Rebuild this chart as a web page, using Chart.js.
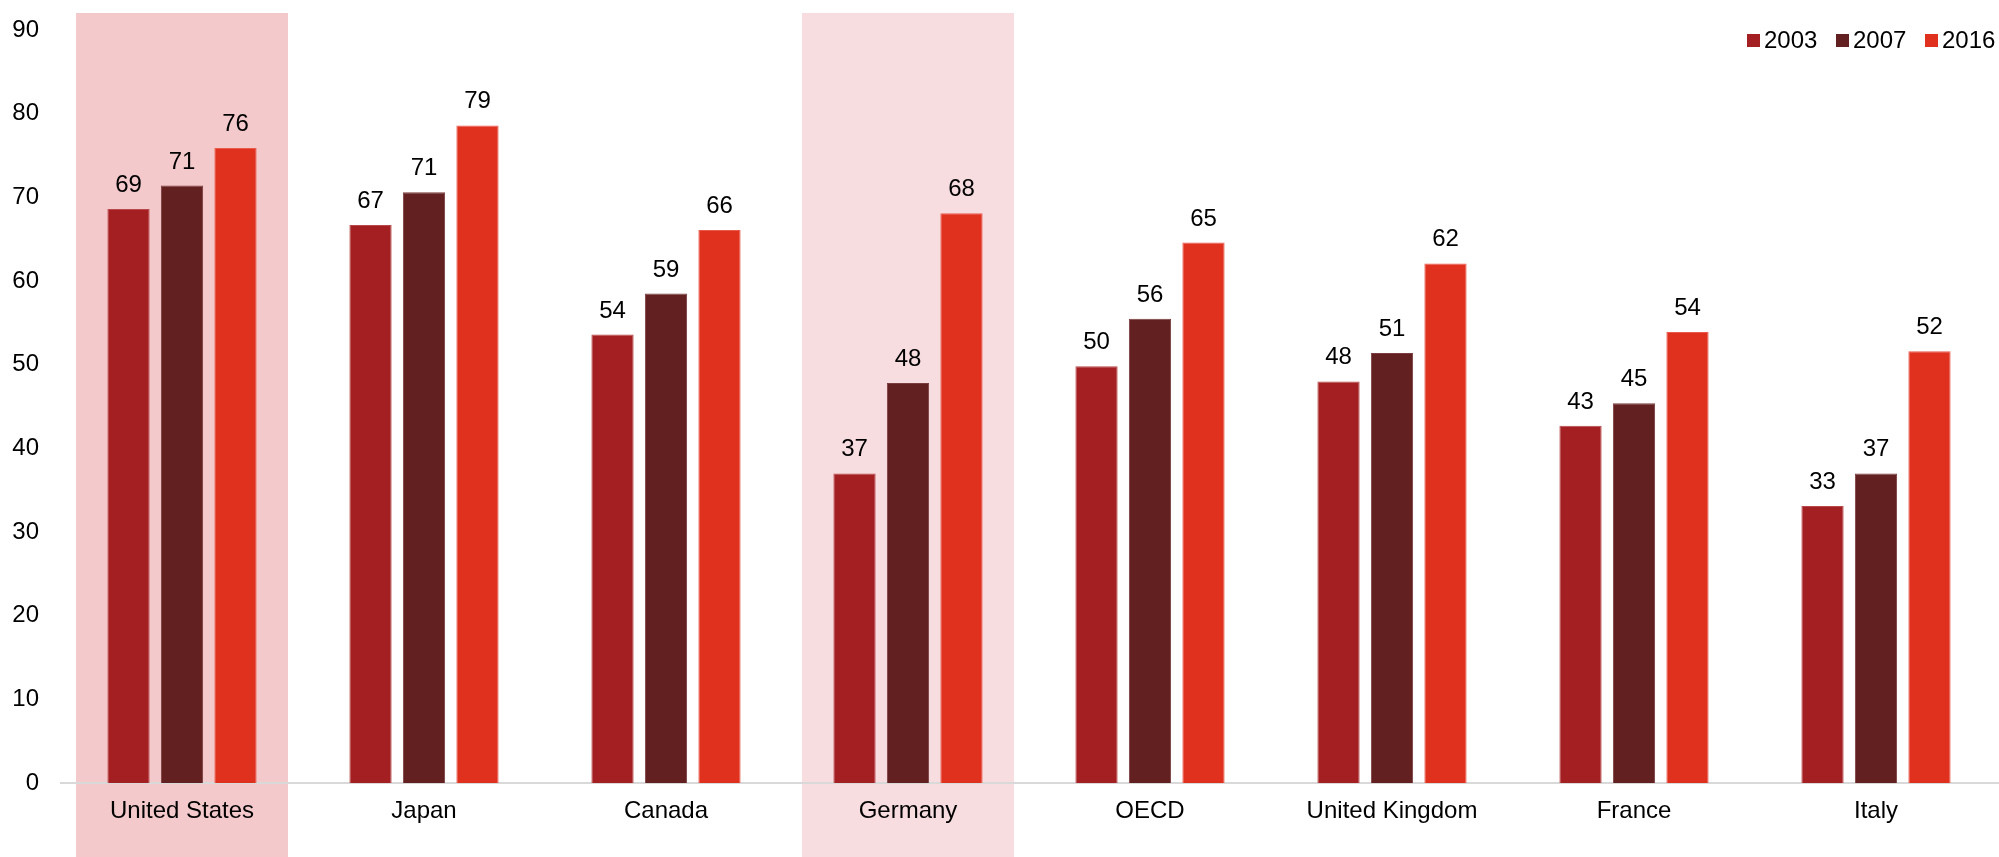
<!DOCTYPE html>
<html>
<head>
<meta charset="utf-8">
<script src="https://cdn.jsdelivr.net/npm/chart.js@4"></script>
<style>
  html,body{margin:0;padding:0;background:#fff;}
  #wrap{width:1999px;height:857px;}
</style>
</head>
<body>
<div id="wrap"><canvas id="chart" width="1999" height="857"></canvas></div>
<script>
// ═══════════ DATA ═══════════
const countries=['United States','Japan','Canada','Germany','OECD','United Kingdom','France','Italy'];
const years=['2003','2007','2016'];
const v2003=[68.6,66.7,53.6,37.0,49.8,48.0,42.7,33.1];
const v2007=[71.4,70.6,58.5,47.8,55.5,51.4,45.4,37.0];
const v2016=[75.9,78.6,66.1,68.1,64.6,62.1,53.9,51.6];
const yTicks=[0,10,20,30,40,50,60,70,80,90];
const highlighted=['United States','Germany'];

const barColors=['#a31f21','#622020','#e0311f'];
const edgeColors=['#b8484a','#7a3c3c','#ea5a4c'];
const bandColors=['#f4c9cb','#f7dce0'];
const FONT='"Liberation Sans", Arial, sans-serif';

// bands behind the highlighted countries + the zero line
const backdrop={
  id:'backdrop',
  beforeDraw(chart){
    const {ctx,scales:{x,y}}=chart;
    const step=x.getPixelForValue(1)-x.getPixelForValue(0);
    const w=step*0.876;
    ctx.save();
    highlighted.forEach((c,i)=>{
      const cx=x.getPixelForValue(countries.indexOf(c));
      ctx.fillStyle=bandColors[i];
      ctx.fillRect(Math.round(cx-w/2),13,Math.round(w),chart.height-13);
    });
    ctx.fillStyle='#d9d9d9';
    ctx.fillRect(60,Math.round(y.getPixelForValue(0))-1,chart.width-60,2);
    ctx.restore();
  }
};

// value labels above bars + legend in the top-right corner
const labelsAndLegend={
  id:'labelsAndLegend',
  afterDatasetsDraw(chart){
    const {ctx}=chart;
    ctx.save();
    ctx.font='24px '+FONT;
    ctx.fillStyle='#000';
    ctx.textAlign='center';
    ctx.textBaseline='alphabetic';
    chart.data.datasets.forEach((ds,di)=>{
      chart.getDatasetMeta(di).data.forEach((bar,i)=>{
        ctx.fillText(String(Math.round(ds.data[i])),bar.x,bar.y-17);
      });
    });
    // legend
    ctx.textAlign='left';
    ctx.textBaseline='middle';
    let lx=1747;
    chart.data.datasets.forEach((ds,di)=>{
      ctx.fillStyle=barColors[di];
      ctx.fillRect(lx,34,13,13);
      ctx.fillStyle='#000';
      ctx.fillText(ds.label,lx+17,41);
      lx+=89;
    });
    ctx.restore();
  }
};

const series=[v2003,v2007,v2016];
new Chart(document.getElementById('chart'),{
  type:'bar',
  data:{
    labels:countries,
    datasets:years.map((yr,i)=>({
      label:yr,
      data:series[i],
      backgroundColor:barColors[i],
      borderColor:edgeColors[i],
      borderWidth:1,
      categoryPercentage:0.663,
      barPercentage:0.79
    }))
  },
  options:{
    responsive:false,
    animation:false,
    layout:{padding:{top:30,right:2,left:0,bottom:0}},
    plugins:{legend:{display:false},tooltip:{enabled:false}},
    scales:{
      x:{
        grid:{display:false,drawTicks:false},
        border:{display:false},
        ticks:{color:'#000',font:{family:FONT,size:24},padding:14,maxRotation:0,autoSkip:false},
        afterFit(s){s.height=74;s.paddingLeft=0;s.paddingRight=0;}
      },
      y:{
        min:0,max:90,
        grid:{display:false,drawTicks:false},
        border:{display:false},
        afterBuildTicks(s){s.ticks=yTicks.map(v=>({value:v}));},
        ticks:{color:'#000',font:{family:FONT,size:24},padding:22},
        afterFit(s){s.width=61;s.paddingTop=0;s.paddingBottom=0;}
      }
    }
  },
  plugins:[backdrop,labelsAndLegend]
});
</script>
</body>
</html>
